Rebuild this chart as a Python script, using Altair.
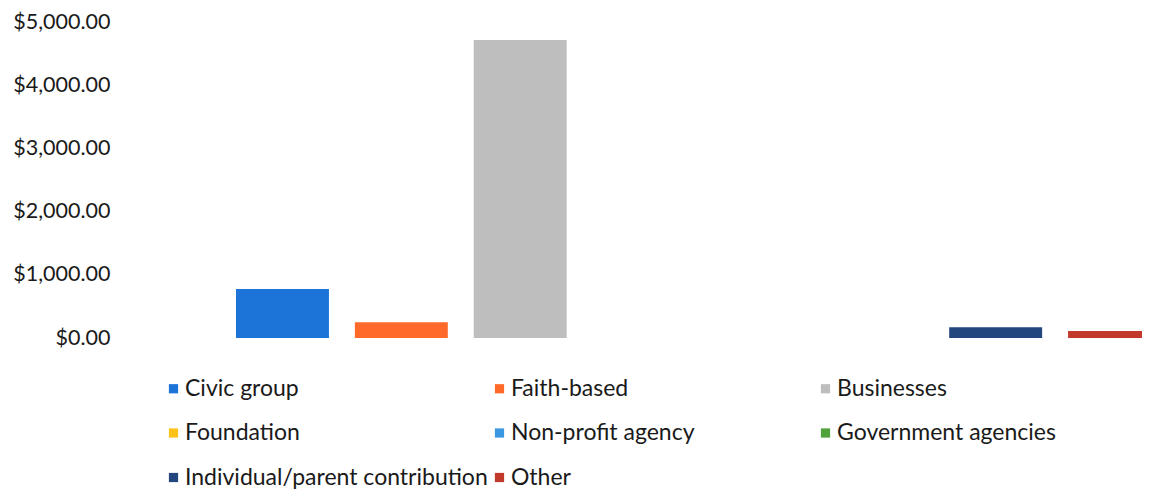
import altair as alt
import pandas as pd

categories = ["Civic group", "Faith-based", "Businesses", "Foundation",
              "Non-profit agency", "Government agencies",
              "Individual/parent contribution", "Other"]
values = [775, 250, 4715, 0, 0, 0, 170, 110]
colors = ["#1C74D8", "#FF6A2A", "#BEBEBE", "#FFC21A",
          "#3A98E2", "#4FA33A", "#24467E", "#C23A2C"]

df = pd.DataFrame({"Source": categories, "Amount": values})

FONT = "Lato"

chart = alt.Chart(df).mark_bar(clip=True).encode(
    x=alt.X("Source:N", sort=categories, axis=None,
            scale=alt.Scale(range=[118, 1043], paddingInner=0.218, paddingOuter=0)),
    y=alt.Y("Amount:Q", title=None,
            scale=alt.Scale(domain=[0, 5000]),
            axis=alt.Axis(values=[0, 1000, 2000, 3000, 4000, 5000], format="$,.2f",
                          grid=False, domain=False, ticks=False,
                          labelFont=FONT, labelFontSize=21.5, labelColor="#1a1a1a",
                          labelPadding=8)),
    color=alt.Color("Source:N", sort=categories,
                    scale=alt.Scale(domain=categories, range=colors),
                    legend=alt.Legend(title=None, orient="none", legendX=44, legendY=355,
                                      direction="horizontal", columns=3, gridAlign="all",
                                      symbolType="square", symbolSize=85,
                                      symbolStrokeWidth=0, labelOffset=0,
                                      labelFont=FONT, labelFontSize=23,
                                      labelColor="#1a1a1a", labelLimit=400,
                                      columnPadding=0, rowPadding=20.5)),
).properties(
    width=1024, height=316,
    padding={"top": 3, "left": 4, "right": 0, "bottom": 0},
).configure_view(stroke=None)

chart.save("out.html", embed_options={"renderer": "svg", "actions": False})
